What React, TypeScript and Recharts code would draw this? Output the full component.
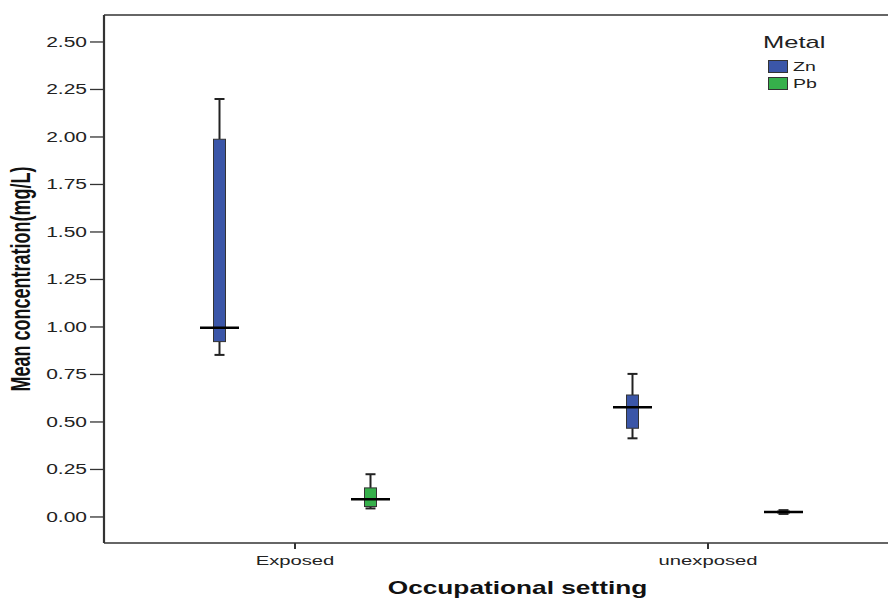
import { BarChart, Bar, XAxis, YAxis, Legend, ReferenceLine } from 'recharts';

// the reference picture is stretched sideways, so its text is drawn wide
const STRETCH = 1.5;
const FONT = '"Liberation Sans", Arial, sans-serif';

const CATEGORIES = ['Exposed', 'unexposed'];
const METALS = ['Zn', 'Pb'];

// Zn box plot values per occupational setting
const ZN_MIN = [0.853, 0.414];
const ZN_Q1 = [0.923, 0.467];
const ZN_MEDIAN = [0.996, 0.577];
const ZN_Q3 = [1.988, 0.642];
const ZN_MAX = [2.2, 0.753];

// Pb box plot values per occupational setting
const PB_MIN = [0.045, 0.016];
const PB_Q1 = [0.055, 0.021];
const PB_MEDIAN = [0.093, 0.026];
const PB_Q3 = [0.153, 0.031];
const PB_MAX = [0.225, 0.036];

const Y_TICKS = [0, 0.25, 0.5, 0.75, 1.0, 1.25, 1.5, 1.75, 2.0, 2.25, 2.5];
const Y_MIN = -0.137;
const Y_MAX = 2.642;

const COLORS = { zn: '#3b56a8', pb: '#36b04b' };

const data = CATEGORIES.map((category, i) => ({
    category,
    zn: { min: ZN_MIN[i], q1: ZN_Q1[i], median: ZN_MEDIAN[i], q3: ZN_Q3[i], max: ZN_MAX[i] },
    pb: { min: PB_MIN[i], q1: PB_Q1[i], median: PB_MEDIAN[i], q3: PB_Q3[i], max: PB_MAX[i] },
}));

const makeBoxShape = (key: 'zn' | 'pb') => (props: any) => {
    const { x, y, width, height, payload, background, fill } = props;
    const s = payload[key];
    let toY: (v: number) => number;
    if (background && background.height) {
        toY = (v) => background.y + ((Y_MAX - v) / (Y_MAX - Y_MIN)) * background.height;
    } else {
        const k = height / (s.q3 - s.q1);
        toY = (v) => y + (s.q3 - v) * k;
    }
    const cx = x + width / 2;
    const cap = 5;
    const med = 19.5;
    return (
        <g>
            <line x1={cx} x2={cx} y1={toY(s.max)} y2={toY(s.q3)} stroke="#222" strokeWidth={2} />
            <line x1={cx} x2={cx} y1={toY(s.q1)} y2={toY(s.min)} stroke="#222" strokeWidth={2} />
            <line x1={cx - cap} x2={cx + cap} y1={toY(s.max)} y2={toY(s.max)} stroke="#222" strokeWidth={2} />
            <line x1={cx - cap} x2={cx + cap} y1={toY(s.min)} y2={toY(s.min)} stroke="#222" strokeWidth={2} />
            <rect x={x} y={toY(s.q3)} width={width} height={toY(s.q1) - toY(s.q3)} fill={fill} stroke="#333" strokeWidth={1} />
            <line x1={cx - med} x2={cx + med} y1={toY(s.median)} y2={toY(s.median)} stroke="#000" strokeWidth={2.5} />
        </g>
    );
};

const YTick = (props: any) => {
    const { x, y, payload } = props;
    return (
        <text transform={`translate(${x},${y}) scale(${STRETCH},1)`} textAnchor="end" dy="0.355em"
            style={{ fontFamily: FONT, fontSize: 14, fill: '#222' }}>
            {Number(payload.value).toFixed(2)}
        </text>
    );
};

const XTick = (props: any) => {
    const { x, y, payload } = props;
    return (
        <text transform={`translate(${x},${y}) scale(${STRETCH},1)`} textAnchor="middle" dy="0.71em"
            style={{ fontFamily: FONT, fontSize: 13.5, fill: '#222' }}>
            {payload.value}
        </text>
    );
};

const YTitle = (props: any) => {
    const { viewBox } = props;
    const cx = 20;
    const cy = viewBox.y + viewBox.height / 2;
    return (
        <text transform={`translate(${cx},${cy}) rotate(-90) scale(1,${STRETCH})`} textAnchor="middle" dy="0.36em"
            style={{ fontFamily: FONT, fontSize: 18, fontWeight: 'bold', fill: '#111' }}>
            Mean concentration(mg/L)
        </text>
    );
};

const XTitle = (props: any) => {
    const { viewBox } = props;
    // centred under the full (partly cut off) frame, which ends at about x = 899
    const cx = viewBox.x + 413.5;
    return (
        <text transform={`translate(${cx},${viewBox.y + 51}) scale(${STRETCH},1)`} textAnchor="middle"
            style={{ fontFamily: FONT, fontSize: 17.5, fontWeight: 'bold', fill: '#111' }}>
            Occupational setting
        </text>
    );
};

const wide = { display: 'inline-block', transform: `scaleX(${STRETCH})`, transformOrigin: '0 50%' };

const renderLegend = (props: any) => {
    const items = [...(props.payload || [])].sort(
        (a: any, b: any) => METALS.indexOf(a.value) - METALS.indexOf(b.value)
    );
    return (
        <div style={{ fontFamily: FONT, color: '#222', width: 90 }}>
            <div style={{ fontSize: 17, lineHeight: '17px', marginBottom: 9 }}><span style={wide}>Metal</span></div>
            {items.map((entry: any) => (
                <div key={entry.value} style={{ display: 'flex', alignItems: 'center', height: 13, marginBottom: 4, marginLeft: 5 }}>
                    <span style={{ display: 'inline-block', width: 18, height: 11, background: entry.color, border: '1px solid #333' }} />
                    <span style={{ ...wide, marginLeft: 5, fontSize: 13, lineHeight: '13px' }}>{entry.value}</span>
                </div>
            ))}
        </div>
    );
};

export default function App() {
    return (
        <div style={{ position: 'absolute', left: 0, top: 0, width: 888, height: 599, background: '#fff' }}>
            <BarChart width={888} height={599} data={data} barSize={12} barGap={139}
                margin={{ top: 15, right: 0, left: 0, bottom: 0 }}>
                <XAxis dataKey="category" height={56} padding={{ left: -15.5, right: -26.5 }}
                    axisLine={{ stroke: '#333', strokeWidth: 1.5 }} tickLine={{ stroke: '#333', strokeWidth: 2 }}
                    tickSize={6} tickMargin={6} tick={<XTick />} label={XTitle} />
                <YAxis domain={[Y_MIN, Y_MAX]} ticks={Y_TICKS} width={104} tickSize={14} tickMargin={3}
                    allowDataOverflow
                    axisLine={{ stroke: '#333', strokeWidth: 2.2 }} tickLine={{ stroke: '#333', strokeWidth: 1.3 }}
                    tick={<YTick />} label={YTitle} />
                <ReferenceLine y={Y_MAX} stroke="#333" strokeWidth={1.5} />
                <Legend layout="vertical" align="center" verticalAlign="middle" content={renderLegend}
                    wrapperStyle={{ top: 33.8, left: 763, width: 'auto', height: 'auto' }} />
                <Bar dataKey={(d: any) => [d.zn.q1, d.zn.q3]} name="Zn" fill={COLORS.zn}
                    shape={makeBoxShape('zn')} isAnimationActive={false} />
                <Bar dataKey={(d: any) => [d.pb.q1, d.pb.q3]} name="Pb" fill={COLORS.pb}
                    shape={makeBoxShape('pb')} isAnimationActive={false} />
            </BarChart>
        </div>
    );
}
